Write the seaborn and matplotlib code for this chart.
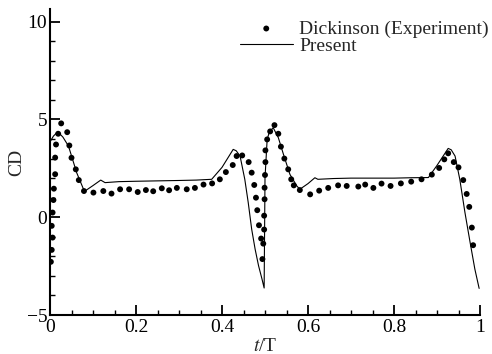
import matplotlib
matplotlib.use("Agg")
import matplotlib.pyplot as plt
import seaborn as sns
import pandas as pd
from matplotlib.ticker import MultipleLocator

# Experimental data (Dickinson)
exp_t = [0.002, 0.004, 0.006, 0.004, 0.006, 0.008, 0.009, 0.012, 0.012, 0.014, 0.019, 0.026,
         0.040, 0.045, 0.050, 0.060, 0.067, 0.079, 0.101, 0.124, 0.143, 0.163, 0.184, 0.204,
         0.223, 0.240, 0.260, 0.277, 0.295, 0.318, 0.337, 0.357, 0.377, 0.395, 0.409, 0.425,
         0.434, 0.447, 0.462, 0.469, 0.475, 0.479, 0.482, 0.486, 0.491, 0.494,
         0.496, 0.498, 0.498, 0.499, 0.499, 0.500, 0.501, 0.501, 0.505, 0.512, 0.522, 0.531,
         0.537, 0.545, 0.554, 0.561, 0.567, 0.581, 0.605, 0.626, 0.647, 0.670, 0.690, 0.717,
         0.733, 0.752, 0.771, 0.792, 0.816, 0.840, 0.864, 0.888, 0.905, 0.917, 0.926, 0.939,
         0.950, 0.961, 0.969, 0.975, 0.981, 0.984]
exp_cd = [-2.28, -1.67, -1.04, -0.44, 0.24, 0.88, 1.46, 2.2, 3.05, 3.72, 4.27, 4.8,
          4.35, 3.67, 3.04, 2.45, 1.9, 1.34, 1.26, 1.34, 1.21, 1.43, 1.43, 1.29,
          1.39, 1.33, 1.48, 1.38, 1.5, 1.43, 1.5, 1.67, 1.73, 1.94, 2.31, 2.67,
          3.13, 3.16, 2.82, 2.28, 1.65, 1.0, 0.36, -0.41, -1.09, -2.14,
          -1.35, -0.63, 0.08, 0.92, 1.51, 2.16, 2.82, 3.42, 3.98, 4.39, 4.71, 4.27,
          3.61, 3.0, 2.45, 1.94, 1.63, 1.39, 1.17, 1.36, 1.5, 1.63, 1.6, 1.57,
          1.67, 1.5, 1.72, 1.6, 1.73, 1.82, 1.94, 2.18, 2.52, 2.96, 3.27, 2.82,
          2.55, 1.9, 1.19, 0.53, -0.53, -1.43]

# Present simulation
sim_t = [0.0, 0.008, 0.018, 0.030, 0.043, 0.062, 0.078, 0.082, 0.100, 0.118, 0.128, 0.160,
         0.200, 0.250, 0.300, 0.340, 0.376, 0.400, 0.426, 0.433, 0.442, 0.453, 0.461, 0.469,
         0.477, 0.485, 0.493, 0.498, 0.500, 0.505, 0.510, 0.519, 0.531, 0.543, 0.558, 0.574,
         0.581, 0.600, 0.616, 0.623, 0.660, 0.700, 0.750, 0.800, 0.840, 0.880, 0.900, 0.926,
         0.933, 0.942, 0.953, 0.965, 0.977, 0.988, 0.998]
sim_cd = [3.85, 4.15, 4.37, 4.1, 3.64, 2.28, 1.43, 1.35, 1.62, 1.9, 1.77, 1.82,
          1.84, 1.86, 1.88, 1.9, 1.94, 2.55, 3.47, 3.4, 3.13, 1.94, 0.75, -0.61,
          -1.63, -2.48, -3.16, -3.62, 2.0, 3.98, 4.35, 4.58, 4.07, 3.21, 2.19, 1.6,
          1.43, 1.72, 2.02, 1.94, 1.98, 2.0, 2.0, 2.0, 2.02, 2.03, 2.65, 3.52,
          3.45, 3.13, 1.94, 0.24, -1.29, -2.65, -3.64]

exp_df = pd.DataFrame({"t": exp_t, "CD": exp_cd})
sim_df = pd.DataFrame({"t": sim_t, "CD": sim_cd})

sns.set_theme(style="ticks")
plt.rcParams["font.family"] = ["Liberation Serif", "DejaVu Serif"]
plt.rcParams["mathtext.fontset"] = "stix"

fig = plt.figure(figsize=(4.92, 3.54), dpi=100)
ax = fig.add_axes([50 / 492, 39 / 354, 430 / 492, 306 / 354])

sns.scatterplot(data=exp_df, x="t", y="CD", ax=ax, color="black", s=18,
                edgecolor="none", label="Dickinson (Experiment)", zorder=3)
sns.lineplot(data=sim_df, x="t", y="CD", ax=ax, color="black", linewidth=0.8,
             sort=False, estimator=None, label="Present", zorder=2)

ax.set_xlim(0, 1)
ax.set_ylim(-5, 10.65)
ax.xaxis.set_minor_locator(MultipleLocator(0.05))
ax.yaxis.set_minor_locator(MultipleLocator(1))
ax.set_xticks([0, 0.2, 0.4, 0.6, 0.8, 1.0])
ax.set_xticklabels(["0", "0.2", "0.4", "0.6", "0.8", "1"])
ax.set_yticks([-5, 0, 5, 10])
ax.set_yticklabels(["\u22125", "0", "5", "10"])

for s in ["top", "right"]:
    ax.spines[s].set_visible(False)
for s in ["left", "bottom"]:
    ax.spines[s].set_linewidth(1.5)
    ax.spines[s].set_color("black")

fs = 14
ax.tick_params(which="major", direction="in", length=7, width=1.3, labelsize=fs,
               colors="black")
ax.tick_params(which="minor", direction="in", length=3.5, width=1.0, colors="black")
ax.tick_params(axis="y", pad=2)
ax.tick_params(axis="x", pad=3)

ax.set_xlabel(r"$\mathit{t}$/T", fontsize=fs, labelpad=1)
ax.set_ylabel("CD", fontsize=fs, labelpad=1)

leg = ax.legend(loc="upper left", bbox_to_anchor=(240 / 492, 1 - 20 / 354),
                bbox_transform=fig.transFigure, frameon=False, fontsize=fs,
                handlelength=2.7, handletextpad=0.35, labelspacing=0.0,
                borderpad=0, borderaxespad=0, markerscale=1.0)

fig.savefig("out.png", dpi=100)
